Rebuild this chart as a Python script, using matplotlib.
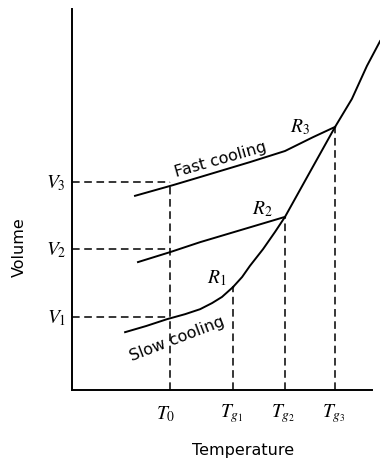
import matplotlib.pyplot as plt

plt.rcParams['mathtext.fontset'] = 'stix'

# readings (arbitrary units, origin at axes corner)
liquid_T = [5.37, 5.67, 5.93, 6.37, 6.77, 7.10, 7.93, 8.77, 9.33, 9.83, 10.27]
liquid_V = [2.69, 2.95, 3.24, 3.68, 4.13, 4.52, 5.69, 6.87, 7.60, 8.46, 9.11]

fast_T = [2.10, 3.37, 4.27, 5.93, 7.10, 8.03, 8.77]
fast_V = [5.07, 5.35, 5.56, 5.95, 6.24, 6.60, 6.87]

mid_T = [2.20, 3.27, 4.27, 7.10]
mid_V = [3.34, 3.60, 3.86, 4.52]

slow_T = [1.77, 2.47, 3.17, 3.77, 4.27, 4.67, 5.00, 5.37]
slow_V = [1.51, 1.67, 1.85, 1.98, 2.11, 2.27, 2.43, 2.69]

T0 = 3.27
Tg = [5.37, 7.10, 8.77]          # T_g1, T_g2, T_g3
Vg = [2.69, 4.52, 6.87]          # volume at R1, R2, R3
V = [1.91, 3.68, 5.43]           # V1, V2, V3

fig = plt.figure(figsize=(3.8, 4.6), dpi=100)
ax = fig.add_axes([72/380, 69/460, 308/380, 383/460])
ax.set_xlim(0, 308/30)
ax.set_ylim(0, 383/38.3)
ax.axis('off')

# axes lines
ax.plot([0, 0], [0, 9.95], color='black', lw=1.4, clip_on=False)
ax.plot([0, 10.0], [0, 0], color='black', lw=1.4, clip_on=False)

ax.plot(liquid_T, liquid_V, color='black', lw=1.4, clip_on=False)
ax.plot(fast_T, fast_V, color='black', lw=1.4)
ax.plot(mid_T, mid_V, color='black', lw=1.4)
ax.plot(slow_T, slow_V, color='black', lw=1.4)

dash = dict(color='black', lw=1.1, linestyle=(0, (5, 3)))
for v in V:
    ax.plot([0, T0], [v, v], **dash)
ax.plot([T0, T0], [0, V[2]], **dash)
for t, v in zip(Tg, Vg):
    ax.plot([t, t], [0, v], **dash)

# labels
for i, v in enumerate(V):
    ax.text(-0.2, v, '$V_%d$' % (i + 1), ha='right', va='center', fontsize=14)
ax.text(3.13, -0.6, '$T_0$', ha='center', va='center', fontsize=14)
for i, t in enumerate(Tg):
    ax.text(t - 0.05, -0.6, '$T_{g_%d}$' % (i + 1), ha='center', va='center', fontsize=14)
ax.text(5.7, -1.55, 'Temperature', ha='center', va='center', fontsize=11.5)
ax.text(-1.75, 3.76, 'Volume', ha='center', va='center', rotation=90, fontsize=11.5)

ax.text(4.95, 6.05, 'Fast cooling', ha='center', va='center', rotation=16, fontsize=11.5)
ax.text(3.5, 1.35, 'Slow cooling', ha='center', va='center', rotation=21, fontsize=11.5)
ax.text(4.83, 2.95, '$R_1$', ha='center', va='center', fontsize=14)
ax.text(6.33, 4.75, '$R_2$', ha='center', va='center', fontsize=14)
ax.text(7.6, 6.9, '$R_3$', ha='center', va='center', fontsize=14)

fig.savefig('out.png', dpi=100)
